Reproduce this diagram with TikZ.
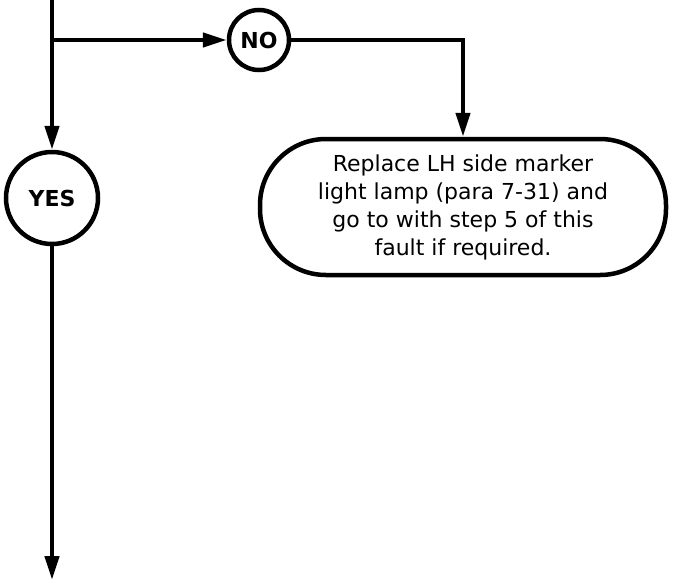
\documentclass[tikz,border=0pt]{standalone}
\usepackage{fontspec}
\setmainfont{DejaVu Sans}
\usetikzlibrary{arrows.meta,positioning}

\begin{document}
\begin{tikzpicture}[
    x=1pt,y=-1pt,
    line width=4.5pt,
    decision/.style={circle,draw,minimum size=60pt,inner sep=0pt,font=\fontsize{22}{24}\selectfont\bfseries},
    action/.style={rectangle,draw,minimum width=406pt,minimum height=136pt,align=center,rounded corners=66pt,font=\fontsize{22}{28}\selectfont},
    arrow/.style={-{Triangle[length=24pt,width=14pt]}}
]
    \useasboundingbox (0,0) rectangle (674,584);
    \coordinate (top) at (52,-5);
    \coordinate (split) at (52,40);
    \coordinate (bottom) at (52,580);
    \node[decision] (no) at (259,40) {NO};
    \node[decision,minimum size=92pt] (yes) at (52,198) {YES};
    \node[action] (replace) at (463,207) {Replace LH side marker\\light lamp (para 7-31) and\\go to with step 5 of this\\fault if required.};

    \draw (top) -- (split);
    \draw[arrow] (split) -- (no);
    \draw[arrow] (split) -- (yes);
    \draw[arrow] (no.east) -| (replace.north);
    \draw[arrow] (yes) -- (bottom);
\end{tikzpicture}
\end{document}
